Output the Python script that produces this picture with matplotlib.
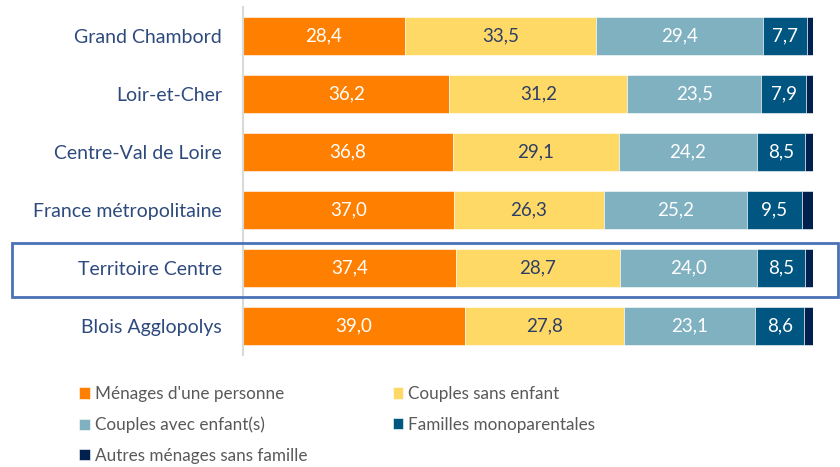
import matplotlib
matplotlib.use("Agg")
import matplotlib.pyplot as plt
from matplotlib.patches import Rectangle

plt.rcParams['font.family'] = ['Lato', 'DejaVu Sans']

categories = ["Grand Chambord", "Loir-et-Cher", "Centre-Val de Loire",
              "France métropolitaine", "Territoire Centre", "Blois Agglopolys"]
series_names = ["Ménages d'une personne", "Couples sans enfant",
                "Couples avec enfant(s)", "Familles monoparentales",
                "Autres ménages sans famille"]
menages_1p = [28.4, 36.2, 36.8, 37.0, 37.4, 39.0]
couples_sans = [33.5, 31.2, 29.1, 26.3, 28.7, 27.8]
couples_avec = [29.4, 23.5, 24.2, 25.2, 24.0, 23.1]
monoparentales = [7.7, 7.9, 8.5, 9.5, 8.5, 8.6]
autres = [1.0, 1.2, 1.4, 2.0, 1.4, 1.5]

series = [menages_1p, couples_sans, couples_avec, monoparentales, autres]
colors = ["#FF8000", "#FFD966", "#80B1C1", "#005581", "#002050"]
text_colors = ["white", "#2E3F66", "white", "white", None]

fig = plt.figure(figsize=(8.4, 4.67), dpi=100)
ax = fig.add_axes([243/840, 1-355/467, (813-243)/840, (355-7)/467])

y = list(range(len(categories)))
left = [0.0]*len(categories)
handles = []
for vals, col, tcol, name in zip(series, colors, text_colors, series_names):
    bars = ax.barh(y, vals, left=left, height=0.67, color=col,
                   edgecolor="white", linewidth=0.4, label=name)
    handles.append(bars)
    if tcol is not None:
        labels = [f"{v:.1f}".replace(".", ",") for v in vals]
        ax.bar_label(bars, labels=labels, label_type="center",
                     color=tcol, fontsize=13.5)
    left = [l + v for l, v in zip(left, vals)]

ax.set_xlim(0, 100)
ax.set_ylim(5.5, -0.5)
ax.set_yticks(y)
ax.set_yticklabels(categories, fontsize=14, color="#2E4A7D")
ax.tick_params(axis="y", length=0, pad=15)
ax.set_xticks([])
for s in ["top", "right", "bottom"]:
    ax.spines[s].set_visible(False)
ax.spines["left"].set_color("#D9D9D9")
ax.spines["left"].set_linewidth(1.5)

# highlight box around Territoire Centre
rect = Rectangle((12/840, 1-297/467), (838-12)/840, (297-243)/467,
                 transform=fig.transFigure, fill=False,
                 edgecolor="#4A72B8", linewidth=2, clip_on=False)
fig.patches.append(rect)

order = [0, 2, 4, 1, 3]
leg = fig.legend([handles[i] for i in order], [series_names[i] for i in order],
                 ncol=2, loc="upper left", bbox_to_anchor=(79/840, 1-386/467),
                 frameon=False, fontsize=12.3, handlelength=0.62, handleheight=0.62,
                 handletextpad=0.3, columnspacing=5.0, labelspacing=0.85,
                 borderaxespad=0, borderpad=0)
for t in leg.get_texts():
    t.set_color("#595959")

fig.savefig("out.png", dpi=100)
